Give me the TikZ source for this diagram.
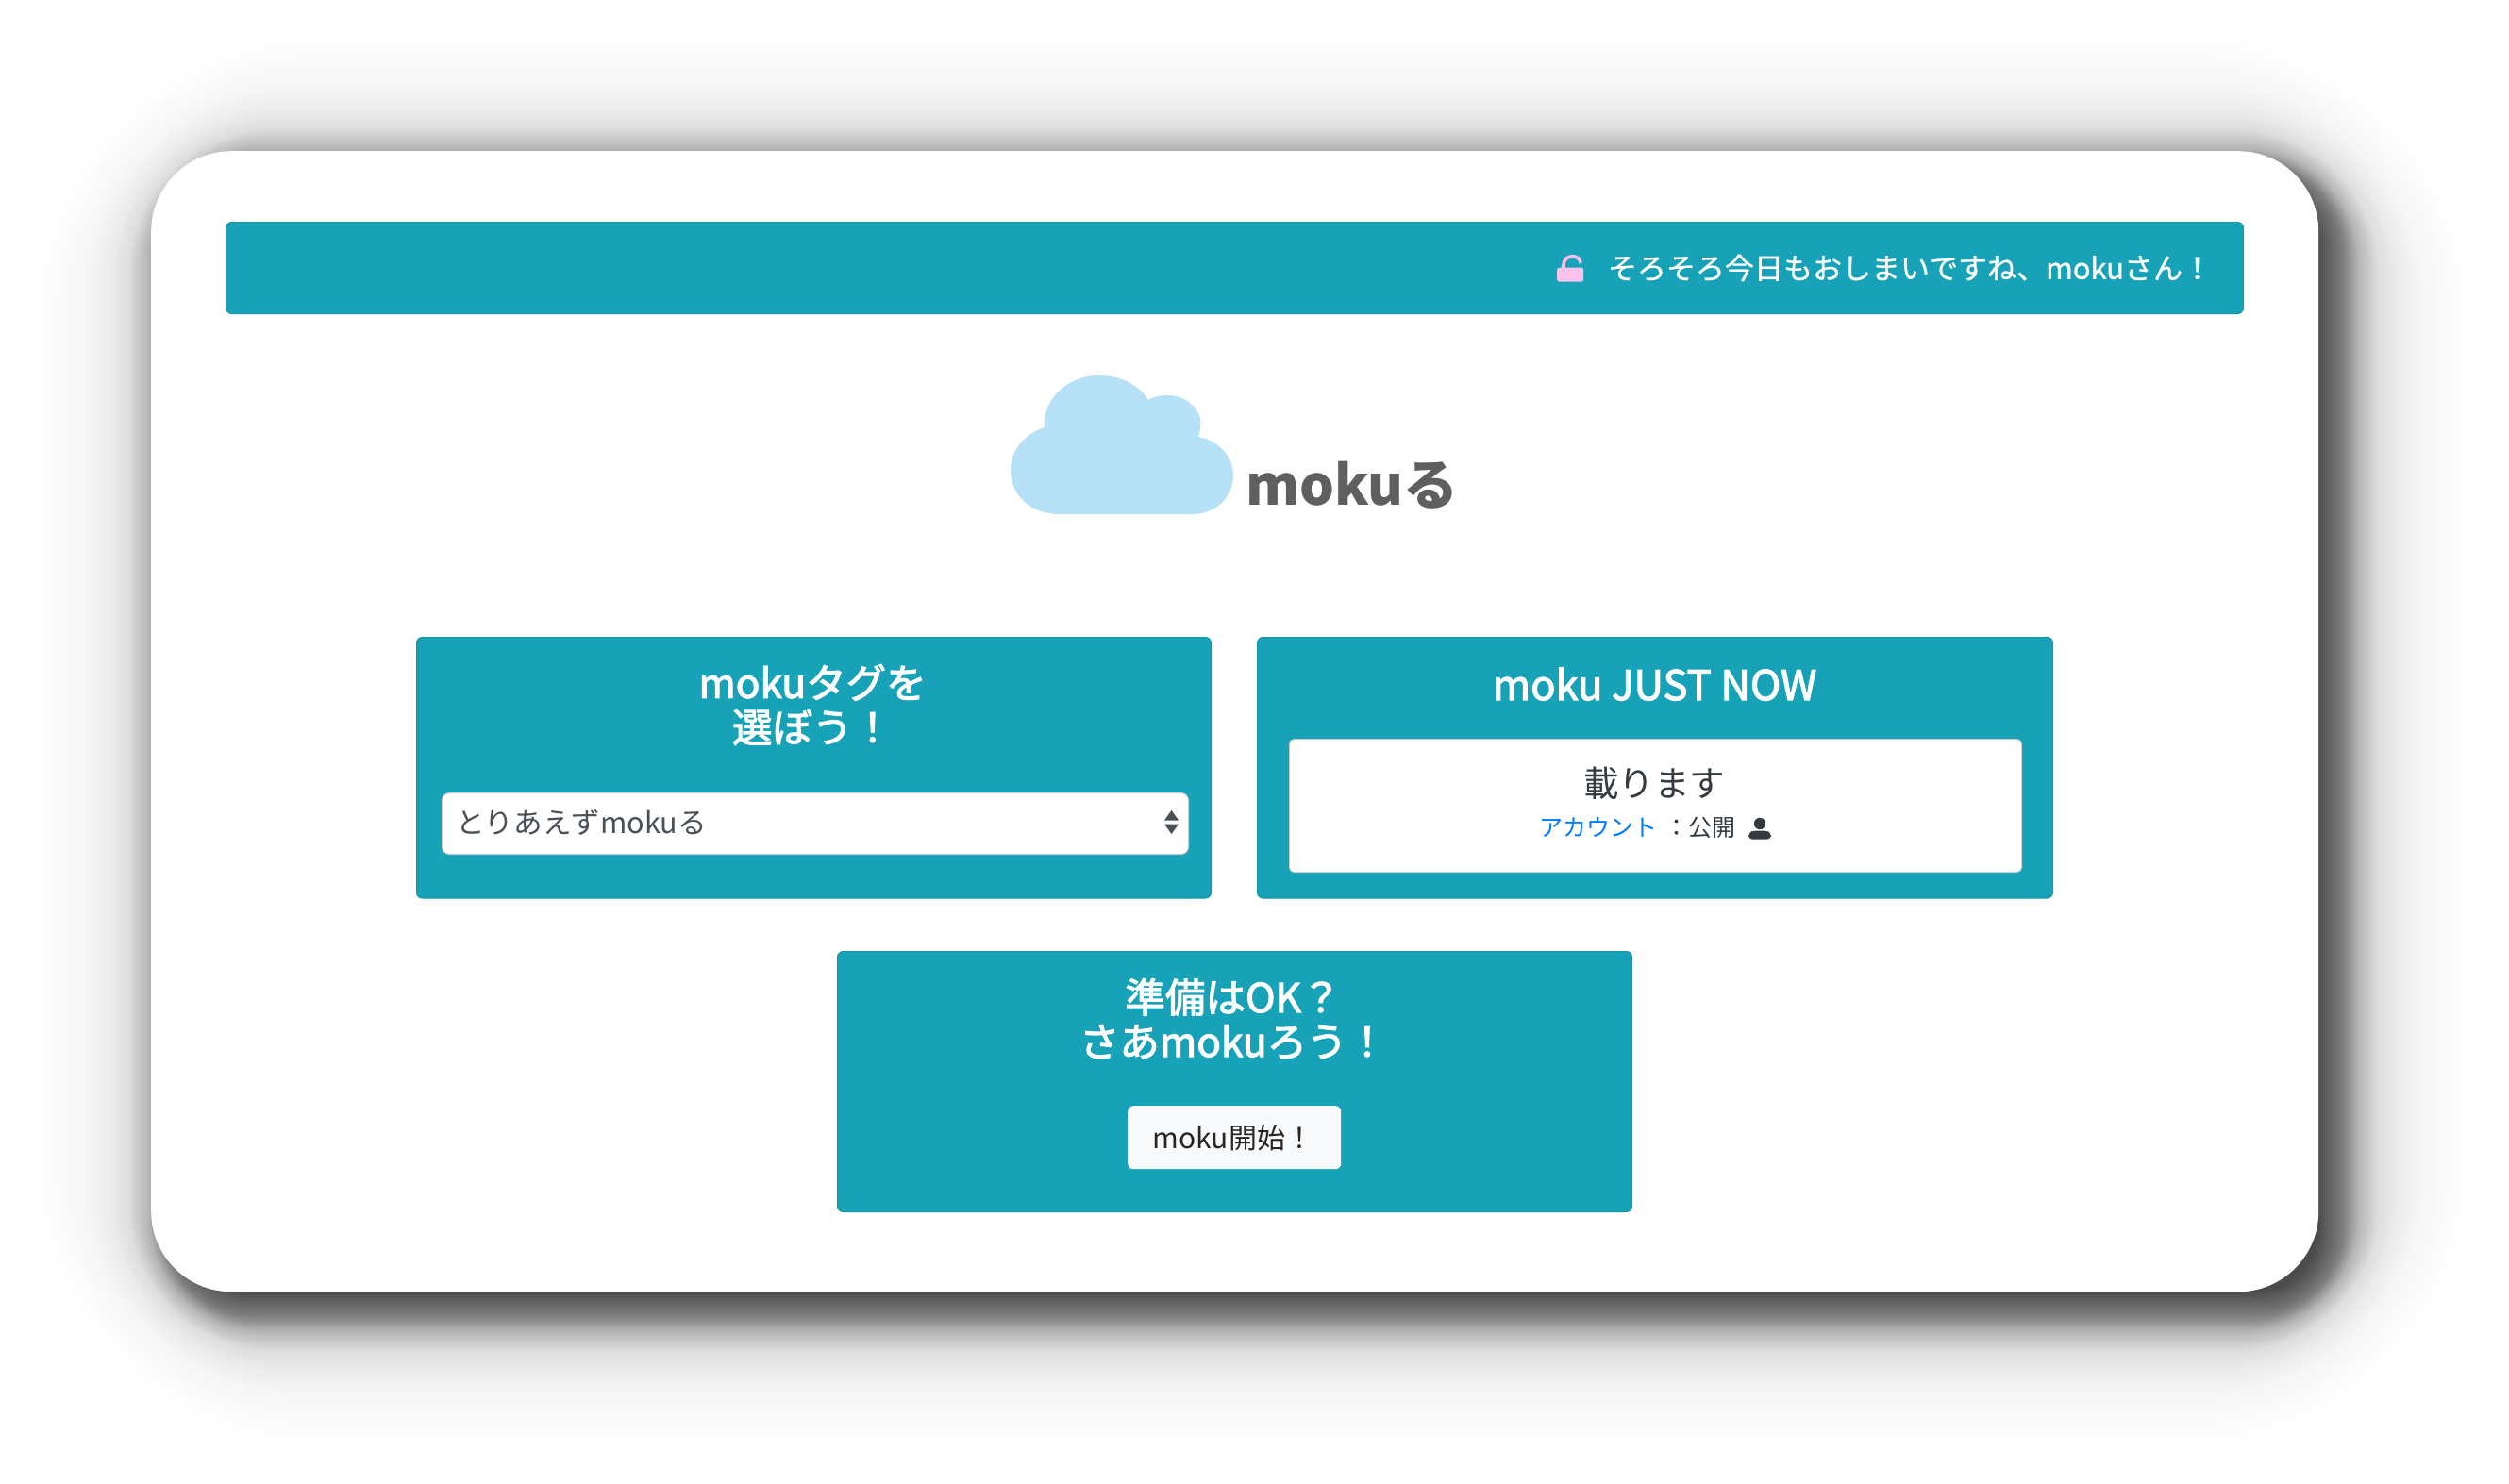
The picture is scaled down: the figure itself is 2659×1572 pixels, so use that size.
\documentclass[tikz,border=0pt]{standalone}
\usepackage{fontspec}
\setmainfont{Noto Sans CJK JP}
\newfontfamily\titlefont[FakeBold=2.5]{Noto Sans CJK JP}
\newfontfamily\bannerfont[FakeBold=0.8]{Noto Sans CJK JP}
\definecolor{teal1}{HTML}{17A2B8}
\definecolor{tealedge}{HTML}{1796A9}
\definecolor{cloudblue}{HTML}{B7E1F7}
\definecolor{logogray}{HTML}{5F5F5F}
\definecolor{selecttext}{HTML}{495057}
\definecolor{bodydark}{HTML}{343A40}
\definecolor{linkblue}{HTML}{007BFF}
\definecolor{lockpink}{HTML}{FBC2EE}
\definecolor{btnlight}{HTML}{F8F9FA}
\tikzset{
  panel/.style={draw=tealedge,line width=1pt,fill=teal1,rounded corners=6pt,inner sep=0pt,anchor=north west},
  whitebox/.style={draw=black!20,line width=1pt,fill=white,rounded corners=5pt,inner sep=0pt,anchor=north west},
  btnbox/.style={fill=btnlight,rounded corners=6pt,inner sep=0pt,anchor=north west},
  title/.style={text=white,inner sep=0pt,align=center,font=\titlefont\fontsize{42.5}{47}\selectfont},
  banner/.style={text=white,inner sep=0pt,font=\bannerfont\fontsize{31}{36}\selectfont},
  selecttxt/.style={text=selecttext,inner sep=0pt,font=\fontsize{30.6}{36}\selectfont},
  bodytxt/.style={text=bodydark,inner sep=0pt,font=\fontsize{37.5}{44}\selectfont},
  smalltxt/.style={text=bodydark,inner sep=0pt,font=\fontsize{25}{28}\selectfont},
}
\begin{document}
\begin{tikzpicture}[x=1pt,y=-1pt]
\useasboundingbox (0,0) rectangle (2659,1572);
\fill[white] (0,0) rectangle (2659,1572);
% soft shadow: opaque grey rounded rectangles, outermost first
\foreach \dA/\dB/\fA/\fB in {150/114/0/0.02,114/90/0.02/0.035,90/64/0.035/0.075,64/44/0.075/0.13,44/23/0.13/0.29,23/7/0.29/0.50,7/-20/0.50/0.70}{
  \pgfmathsetmacro{\nsteps}{int(max(1,(\dA-\dB)))}
  \foreach \k in {1,...,\nsteps}{
    \pgfmathsetmacro{\dd}{\dA-(\dA-\dB)*\k/\nsteps}
    \pgfmathsetmacro{\fcur}{100*(\fA+(\fB-\fA)*\k/\nsteps)}
    \pgfmathsetmacro{\rr}{85+(\dd>0 ? 1.6*\dd : \dd)}
    \fill[black!\fcur!white,rounded corners=\rr pt] (180-\dd,180-\dd) rectangle (2477+\dd,1389+\dd);
  }
}
% card
\node[fill=white,rounded corners=85pt,inner sep=0pt,anchor=north west,minimum width=2297pt,minimum height=1209pt] (card) at (160,160) {};
% banner
\node[panel,minimum width=2138pt,minimum height=97pt] (bar) at (239,235) {};
\node[banner] (bartext) at (2024,284) {そろそろ今日もおしまいですね、mokuさん！};
% lock
\node[fill=lockpink,rounded corners=2.5pt,inner sep=0pt,minimum width=28pt,minimum height=15pt,anchor=north west] (lockbody) at (1650,283.5) {};
\draw[lockpink,line width=3.6pt] (1657,285) -- (1657,281) .. controls (1657,269) and (1675,269) .. (1675,279);
% logo
\fill[cloudblue] (1123,545) .. controls (1092,545) and (1071,525) .. (1071,498)
  .. controls (1071,478) and (1085,460) .. (1107,453)
  .. controls (1104,425) and (1130,398) .. (1165,398)
  .. controls (1188,398) and (1207,408) .. (1217,424)
  .. controls (1223,420) and (1230,419) .. (1237,419)
  .. controls (1258,419) and (1275,435) .. (1272,452)
  .. controls (1272,456) and (1271,460) .. (1270,463)
  .. controls (1292,467) and (1307,485) .. (1307,503)
  .. controls (1307,528) and (1288,545) .. (1263,545) -- cycle;
\node[text=logogray,inner sep=0pt,anchor=base west,font=\bfseries\fontsize{58}{60}\selectfont] (logotext) at (1320,535) {mokuる};
% left panel
\node[panel,minimum width=842pt,minimum height=276.5pt] (tagpanel) at (441,675) {};
\node[title] (tagtitle) at (861,747) {mokuタグを\\選ぼう！};
\node[whitebox,rounded corners=8pt,minimum width=791pt,minimum height=65pt] (select) at (468,840) {};
\node[selecttxt,anchor=west] (selecttext) at (483,872) {とりあえずmokuる};
\fill[selecttext] (1241.5,859) -- (1249,869.5) -- (1234,869.5) -- cycle;
\fill[selecttext] (1241.5,884) -- (1249,873.5) -- (1234,873.5) -- cycle;
% right panel
\node[panel,minimum width=843pt,minimum height=276.5pt] (nowpanel) at (1332,675) {};
\node[title,font=\titlefont\fontsize{43.6}{47}\selectfont] (nowtitle) at (1753.5,725) {moku JUST NOW};
\node[whitebox,minimum width=776pt,minimum height=141pt] (nowbox) at (1366,783) {};
\node[bodytxt] (nowtext) at (1753,830) {載ります};
\node[smalltxt,text=linkblue,anchor=west] (acct) at (1631,877) {アカウント};
\node[smalltxt,anchor=west] (pub) at (1764,877) {：公開};
\fill[bodydark] (1865,873) circle (6.2);
\fill[bodydark,rounded corners=4pt] (1853,889.5) -- (1853,883) -- (1858,880.5) -- (1872,880.5) -- (1877,883) -- (1877,889.5) -- cycle;
% bottom panel
\node[panel,minimum width=842pt,minimum height=276pt] (startpanel) at (887,1008) {};
\node[title] (starttitle) at (1307,1080) {準備はOK？\\さあmokuろう！};
\node[btnbox,minimum width=226pt,minimum height=67pt] (startbtn) at (1195,1172) {};
\node[text=black!85,inner sep=0pt,font=\fontsize{30}{36}\selectfont] (starttext) at (1307,1206) {moku開始！};
\end{tikzpicture}
\end{document}
